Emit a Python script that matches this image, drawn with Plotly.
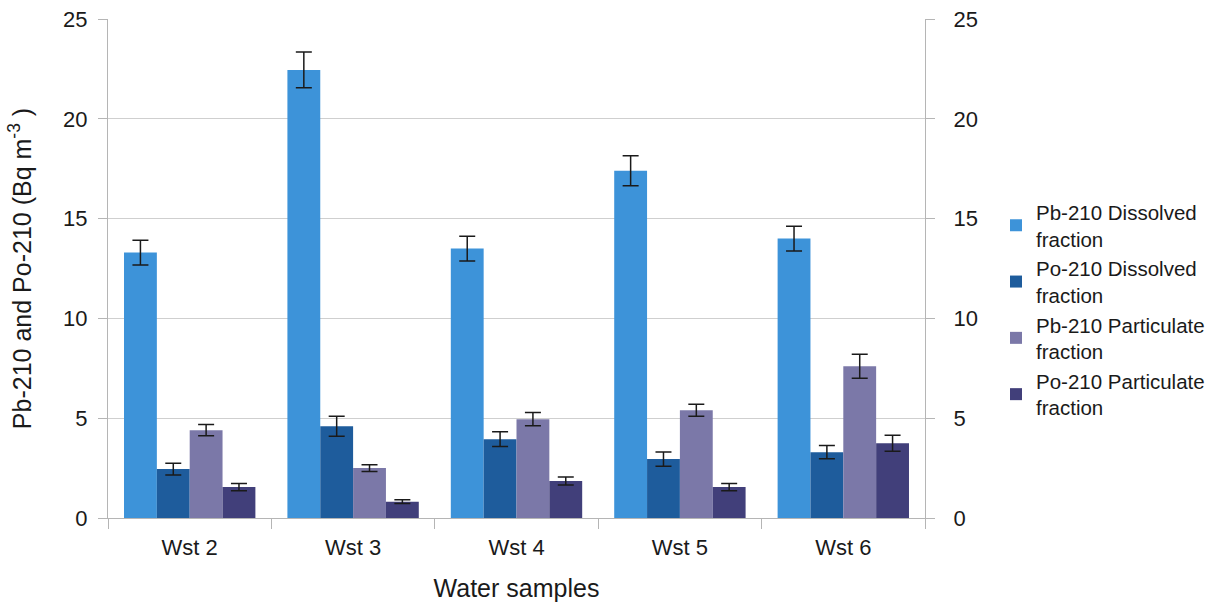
import plotly.graph_objects as go

# Sampling stations
samples = ["Wst 2", "Wst 3", "Wst 4", "Wst 5", "Wst 6"]

# Activity concentrations (Bq m-3) and their uncertainties
pb_dissolved = [13.3, 22.45, 13.5, 17.4, 14.0]
pb_dissolved_err = [0.62, 0.9, 0.62, 0.75, 0.62]

po_dissolved = [2.45, 4.6, 3.95, 2.95, 3.3]
po_dissolved_err = [0.29, 0.5, 0.37, 0.36, 0.33]

pb_particulate = [4.4, 2.5, 4.95, 5.4, 7.6]
pb_particulate_err = [0.28, 0.17, 0.33, 0.3, 0.6]

po_particulate = [1.55, 0.82, 1.85, 1.55, 3.75]
po_particulate_err = [0.18, 0.09, 0.2, 0.18, 0.4]

series_names = [
    "Pb-210 Dissolved<br>fraction",
    "Po-210 Dissolved<br>fraction",
    "Pb-210 Particulate<br>fraction",
    "Po-210 Particulate<br>fraction",
]
series_values = [pb_dissolved, po_dissolved, pb_particulate, po_particulate]
series_errors = [pb_dissolved_err, po_dissolved_err, pb_particulate_err, po_particulate_err]
series_colors = ["#3d93d9", "#1e5c9c", "#7b78a8", "#413f7a"]

FONT = "Liberation Sans, Arial, sans-serif"
TEXT = "#1a1a1a"
GRID = "#cfcfcf"
AXIS = "#b5b5b5"

fig = go.Figure()
for name, vals, errs, col in zip(series_names, series_values, series_errors, series_colors):
    fig.add_trace(go.Bar(
        x=samples, y=vals, name=name,
        marker=dict(color=col, line=dict(width=0)),
        error_y=dict(type="data", array=errs, visible=True,
                     color="#1a1a1a", thickness=1.5, width=8),
    ))

# Secondary axis mirrors the primary scale on the right side
fig.add_trace(go.Bar(
    x=samples, y=pb_dissolved, yaxis="y2", showlegend=False,
    opacity=0, hoverinfo="skip", marker=dict(color="rgba(0,0,0,0)"),
))

axis_common = dict(
    range=[0, 25], dtick=5, tick0=0,
    ticks="outside", ticklen=9, tickcolor=AXIS, tickwidth=1,
    showline=True, linecolor=AXIS, linewidth=1,
    automargin=False,
    tickfont=dict(family=FONT, size=22, color=TEXT),
)

fig.update_layout(
    width=1223, height=606,
    margin=dict(l=108, r=298, t=19, b=88),
    paper_bgcolor="white", plot_bgcolor="white",
    barmode="group", bargap=0.196, bargroupgap=0,
    font=dict(family=FONT, color=TEXT),
    xaxis=dict(
        type="category",
        tickson="boundaries", ticks="outside", ticklen=10,
        tickcolor=AXIS, tickwidth=1,
        showline=True, linecolor=AXIS, linewidth=1,
        showgrid=False, automargin=False,
        ticklabelstandoff=10,
        tickfont=dict(family=FONT, size=22, color=TEXT),
        title=dict(text="Water samples", font=dict(family=FONT, size=25, color=TEXT),
                   standoff=20),
    ),
    yaxis=dict(
        **axis_common,
        ticklabelstandoff=6,
        showgrid=True, gridcolor=GRID, gridwidth=1,
        zeroline=False,
        title=dict(text="Pb-210 and Po-210 (Bq m<sup>-3</sup> )",
                   font=dict(family=FONT, size=25, color=TEXT), standoff=24),
    ),
    yaxis2=dict(
        **axis_common,
        ticklabelstandoff=14,
        overlaying="y", side="right", anchor="x",
        showgrid=False, zeroline=False,
    ),
    legend=dict(
        xref="container", yref="container",
        x=0.8144, y=0.683, xanchor="left", yanchor="top",
        font=dict(family=FONT, size=20.5, color=TEXT),
        tracegroupgap=0, itemsizing="constant",
        bgcolor="rgba(0,0,0,0)",
    ),
)

fig.write_html("out.html")
